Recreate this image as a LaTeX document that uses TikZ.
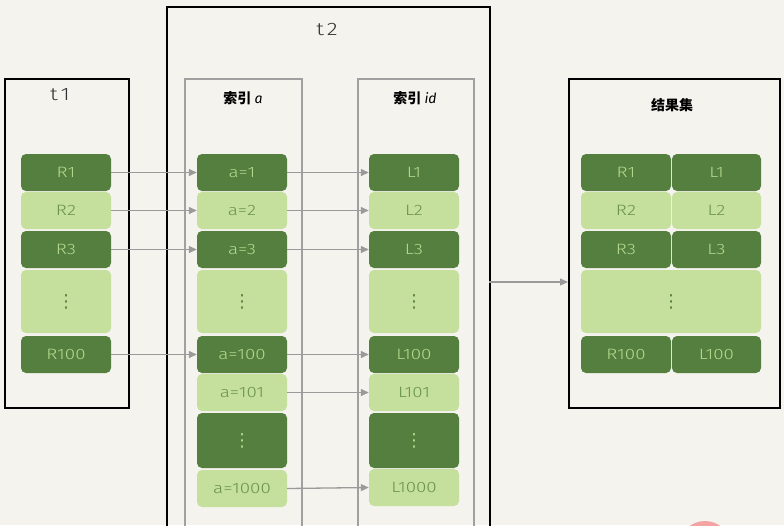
\documentclass[tikz,border=0pt]{standalone}
\usepackage{fontspec}
\setmainfont{Fira Sans}
\newfontfamily\widef[FakeStretch=1.25]{Fira Sans Light}
\newfontfamily\cjk{Noto Sans CJK SC}
\newfontfamily\djv{DejaVu Sans}
\usetikzlibrary{arrows.meta}
\definecolor{bgc}{HTML}{F5F3EE}
\definecolor{darkg}{HTML}{557F3E}
\definecolor{lightg}{HTML}{C5DF9C}
\definecolor{darktxt}{HTML}{B5D98F}
\definecolor{lighttxt}{HTML}{6A934C}
\definecolor{arrowgray}{HTML}{9A9A9A}
\definecolor{boxgray}{HTML}{A0A0A0}
\definecolor{pinkc}{HTML}{F4A3A3}
\newcommand{\vdd}{{\djv\fontsize{18}{20}\selectfont ⋮}}
\tikzset{
  dk/.style={fill=darkg, text=darktxt, rounded corners=5pt, minimum width=90pt, minimum height=37pt, inner sep=0pt, font=\widef\fontsize{15}{17}\selectfont},
  lt/.style={fill=lightg, text=lighttxt, rounded corners=5pt, minimum width=90pt, minimum height=37pt, inner sep=0pt, font=\widef\fontsize{15}{17}\selectfont},
  outerbox/.style={draw=black, line width=1.6pt, fill=none, inner sep=0pt, anchor=north west},
  idxbox/.style={draw=boxgray, line width=1.5pt, fill=none, inner sep=0pt, anchor=north west},
  conn/.style={draw=arrowgray, line width=1.3pt, -{Triangle[width=7pt,length=8pt]}},
  ttl/.style={text=black!80, font=\widef\fontsize{18}{20}\selectfont},
  cttl/.style={text=black, font=\cjk\bfseries\fontsize{14}{16}\selectfont}
}
\begin{document}
\begin{tikzpicture}[x=1pt,y=-1pt]
\useasboundingbox (0,0) rectangle (784,525);
\clip (0,0) rectangle (784,525);
\fill[bgc] (0,0) rectangle (784,525);

% outer boxes
\node[outerbox, minimum width=124pt, minimum height=329pt] (t1) at (4,78) {};
\node[outerbox, minimum width=323pt, minimum height=540pt] (t2) at (166,6) {};
\node[outerbox, minimum width=211pt, minimum height=329pt] (rs) at (568,78) {};
\node[idxbox, minimum width=117pt, minimum height=470pt] (ia) at (184,78) {};
\node[idxbox, minimum width=116pt, minimum height=470pt] (iid) at (357,78) {};

% titles
\node[ttl] (t1t) at (60,95) {t\,1};
\node[ttl] (t2t) at (327,30) {t\,2};
\node[cttl] (iat) at (243,98) {索引 {\rmfamily\mdseries\itshape a}};
\node[cttl] (iidt) at (415,98) {索引 {\rmfamily\mdseries\itshape id}};
\node[cttl] (rst) at (672,105) {结果集};

% t1 rows
\node[dk] (r1) at (66,172.5) {R1};
\node[lt] (r2) at (66,210.5) {R2};
\node[dk] (r3) at (66,249.5) {R3};
\node[lt, minimum height=63pt, text=darkg] (rd) at (66,301.5) {\vdd};
\node[dk] (r100) at (66,354.5) {R100};

% index a rows
\node[dk] (a1) at (242,172.5) {a=1};
\node[lt] (a2) at (242,210.5) {a=2};
\node[dk] (a3) at (242,249.5) {a=3};
\node[lt, minimum height=63pt, text=darkg] (ad) at (242,301.5) {\vdd};
\node[dk] (a100) at (242,354.5) {a=100};
\node[lt] (a101) at (242,392.5) {a=101};
\node[dk, minimum height=55pt] (ad2) at (242,440.5) {\vdd};
\node[lt] (a1000) at (242,488.5) {a=1000};

% index id rows
\node[dk] (l1) at (414,172.5) {L1};
\node[lt] (l2) at (414,210.5) {L2};
\node[dk] (l3) at (414,249.5) {L3};
\node[lt, minimum height=63pt, text=darkg] (ld) at (414,301.5) {\vdd};
\node[dk] (l100) at (414,354.5) {L100};
\node[lt] (l101) at (414,392.5) {L101};
\node[dk, minimum height=55pt] (ld2) at (414,440.5) {\vdd};
\node[lt] (l1000) at (414,487.5) {L1000};

% result rows
\node[dk] (sr1) at (626,172.5) {R1};
\node[dk, minimum width=89pt] (sl1) at (716.5,172.5) {L1};
\node[lt] (sr2) at (626,210.5) {R2};
\node[lt, minimum width=89pt] (sl2) at (716.5,210.5) {L2};
\node[dk] (sr3) at (626,249.5) {R3};
\node[dk, minimum width=89pt] (sl3) at (716.5,249.5) {L3};
\node[lt, minimum width=180pt, minimum height=63pt, text=darkg] (sd) at (671,301.5) {\vdd};
\node[dk] (sr100) at (626,354.5) {R100};
\node[dk, minimum width=89pt] (sl100) at (716.5,354.5) {L100};

% connectors t1 -> index a
\draw[conn] (r1.east) -- (a1.west);
\draw[conn] (r2.east) -- (a2.west);
\draw[conn] (r3.east) -- (a3.west);
\draw[conn] (r100.east) -- (a100.west);

% index a -> index id
\draw[conn] (a1.east) -- (l1.west);
\draw[conn] (a2.east) -- (l2.west);
\draw[conn] (a3.east) -- (l3.west);
\draw[conn] (a100.east) -- (l100.west);
\draw[conn] (a101.east) -- (l101.west);
\draw[conn] (a1000.east) -- (l1000.west);

% t2 -> result set
\coordinate (t2out) at (489,282);
\draw[conn] (t2out) -- (t2out -| rs.west);

% partial pink circle at bottom
\fill[pinkc] (705,547) circle (26);
\end{tikzpicture}
\end{document}
